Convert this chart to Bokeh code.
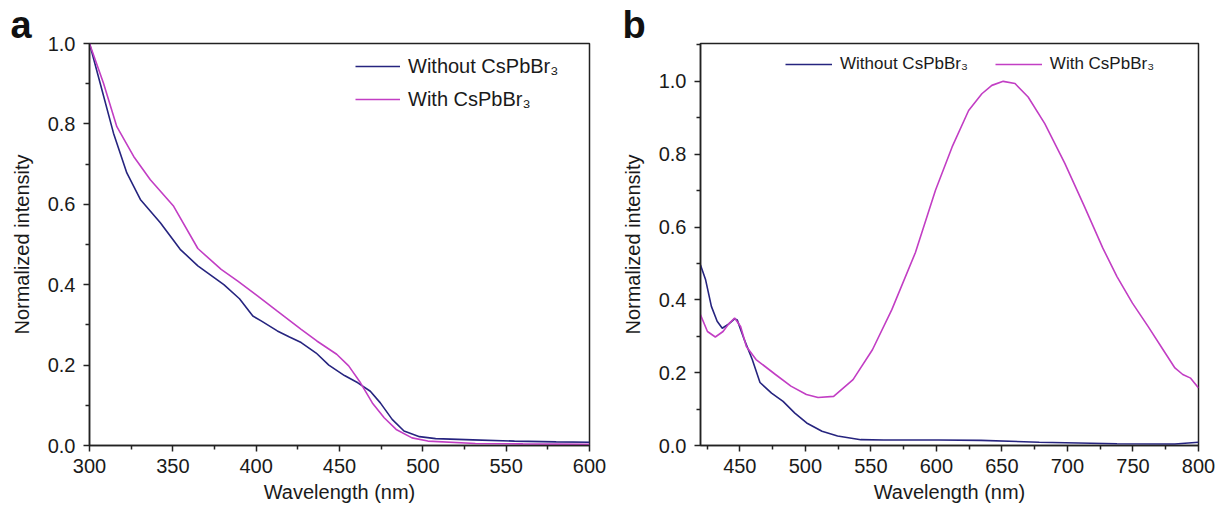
from bokeh.plotting import figure
from bokeh.models import Range1d, FixedTicker, Legend, LegendItem, PrintfTickFormatter, Title
from bokeh.layouts import row
from bokeh.embed import file_html
from bokeh.resources import INLINE

# ---- Panel a data (absorption) ----
a_wl_without = [300, 306.4, 314.4, 322.4, 330.5, 342.5, 354.4, 365, 380.6, 390, 398, 403, 412.7, 420, 427, 436,
                443.6, 453, 461, 468.5, 474.5, 481.6, 488.7, 498, 507.7, 530, 555, 580, 600]
a_int_without = [1.0, 0.901, 0.777, 0.678, 0.612, 0.554, 0.488, 0.447, 0.40, 0.365, 0.322, 0.31, 0.285, 0.27, 0.256, 0.23,
                 0.20, 0.174, 0.156, 0.135, 0.106, 0.065, 0.036, 0.022, 0.017, 0.014, 0.011, 0.009, 0.008]
a_wl_with = [300, 308.4, 316.4, 326.5, 336.5, 350.5, 365, 379, 389, 400.8, 412.7, 427, 436.4, 448.3, 455.5, 462.6,
             469.7, 476.8, 484, 493.5, 503, 531.5, 560, 600]
a_int_with = [1.0, 0.901, 0.793, 0.719, 0.661, 0.595, 0.49, 0.438, 0.409, 0.372, 0.334, 0.289, 0.26, 0.227, 0.198, 0.156,
              0.106, 0.069, 0.04, 0.019, 0.011, 0.005, 0.004, 0.003]

# ---- Panel b data (photoluminescence) ----
b_wl_without = [420, 423.9, 428.3, 432.7, 436.6, 441.6, 446, 448, 453.5, 459.5, 465.4, 474.2, 483, 492, 501, 512.7,
                524.6, 542.3, 560, 601.6, 634, 678.5, 737.8, 782, 800]
b_int_without = [0.496, 0.455, 0.382, 0.341, 0.322, 0.334, 0.348, 0.345, 0.29, 0.236, 0.173, 0.144, 0.121, 0.089, 0.062, 0.039,
                 0.026, 0.016, 0.015, 0.015, 0.014, 0.009, 0.005, 0.004, 0.009]
b_wl_with = [420, 425.3, 431.3, 437.2, 441.6, 446, 450.6, 455, 462.4, 477.2, 489, 500.8, 509.7, 521.6, 536.4, 551.2,
             566, 584, 599.3, 612, 624.6, 634.7, 642.3, 651, 660, 670, 682.7, 698, 713, 727, 737.8, 749.6,
             761.5, 773, 782, 788, 794, 800]
b_int_with = [0.359, 0.313, 0.298, 0.313, 0.334, 0.35, 0.327, 0.272, 0.236, 0.195, 0.163, 0.14, 0.132, 0.135, 0.181, 0.263,
              0.373, 0.53, 0.701, 0.82, 0.92, 0.966, 0.989, 1.0, 0.994, 0.957, 0.884, 0.775, 0.656, 0.542, 0.464, 0.391,
              0.327, 0.263, 0.213, 0.195, 0.185, 0.158]

label_without = "Without CsPbBr\u2083"
label_with = "With CsPbBr\u2083"

a_xticks = [300, 350, 400, 450, 500, 550, 600]
a_xminor = [325, 375, 425, 475, 525, 575]
a_yticks = [0.0, 0.2, 0.4, 0.6, 0.8, 1.0]
a_yminor = [0.1, 0.3, 0.5, 0.7, 0.9]
b_xticks = [450, 500, 550, 600, 650, 700, 750, 800]
b_xminor = [425, 475, 525, 575, 625, 675, 725, 775]
b_yticks = [0.0, 0.2, 0.4, 0.6, 0.8, 1.0]
b_yminor = [0.1, 0.3, 0.5, 0.7, 0.9, 1.1]

BLUE = "#26247f"
MAGENTA = "#c23ec4"
FONT = "Liberation Sans"
INK = "#1a1a1a"


def style(p, xt, xm, yt, ym):
    p.xgrid.visible = False
    p.ygrid.visible = False
    p.outline_line_color = "#222222"
    p.outline_line_width = 1.5
    p.background_fill_color = "white"
    p.border_fill_color = "white"
    p.xaxis.ticker = FixedTicker(ticks=xt, minor_ticks=xm)
    p.yaxis.ticker = FixedTicker(ticks=yt, minor_ticks=ym)
    p.yaxis.formatter = PrintfTickFormatter(format="%.1f")
    for ax in (p.xaxis[0], p.yaxis[0]):
        ax.axis_line_width = 1.5
        ax.axis_line_color = "#222222"
        ax.major_tick_line_width = 1.5
        ax.minor_tick_line_width = 1.5
        ax.major_tick_line_color = "#222222"
        ax.minor_tick_line_color = "#222222"
        ax.major_tick_out = 6
        ax.major_tick_in = 0
        ax.minor_tick_out = 4
        ax.minor_tick_in = 0
        ax.major_label_text_font = FONT
        ax.major_label_text_font_size = "20px"
        ax.major_label_text_color = INK
        ax.axis_label_text_font = FONT
        ax.axis_label_text_font_size = "20px"
        ax.axis_label_text_font_style = "normal"
        ax.axis_label_text_color = INK
    p.xaxis.major_label_standoff = 7
    p.yaxis.major_label_standoff = 8
    p.xaxis.axis_label_standoff = 5
    p.yaxis.axis_label_standoff = 12


def panel_title(letter, offset):
    return Title(text=letter, align="left", offset=offset, standoff=-4,
                 text_font=FONT, text_font_size="38px", text_font_style="bold",
                 text_color="#111111", vertical_align="bottom")


# Panel a
pa = figure(width=618, height=508, output_backend="svg", toolbar_location=None,
            x_range=Range1d(300, 600), y_range=Range1d(0, 1.0),
            x_axis_label="Wavelength (nm)", y_axis_label="Normalized intensity",
            title=panel_title("a", -79),
            min_border_left=89, min_border_right=29, min_border_top=43, min_border_bottom=63)
style(pa, a_xticks, a_xminor, a_yticks, a_yminor)
ra1 = pa.line(a_wl_without, a_int_without, line_color=BLUE, line_width=1.6)
ra2 = pa.line(a_wl_with, a_int_with, line_color=MAGENTA, line_width=1.6)
leg_a = Legend(items=[LegendItem(label=label_without, renderers=[ra1]),
                      LegendItem(label=label_with, renderers=[ra2])],
               location=(261, 329), orientation="vertical",
               border_line_alpha=0, background_fill_alpha=0,
               label_text_font=FONT, label_text_font_size="20px", label_text_color=INK,
               glyph_width=45, glyph_height=24, label_height=24, label_standoff=8,
               spacing=9, padding=5, margin=0)
pa.add_layout(leg_a)

# Panel b
pb = figure(width=603, height=508, output_backend="svg", toolbar_location=None,
            x_range=Range1d(420, 800), y_range=Range1d(0, 1.104),
            x_axis_label="Wavelength (nm)", y_axis_label="Normalized intensity",
            title=panel_title("b", -78),
            min_border_left=80, min_border_right=23, min_border_top=43, min_border_bottom=63)
style(pb, b_xticks, b_xminor, b_yticks, b_yminor)
rb1 = pb.line(b_wl_without, b_int_without, line_color=BLUE, line_width=1.6)
rb2 = pb.line(b_wl_with, b_int_with, line_color=MAGENTA, line_width=1.6)
leg_b = Legend(items=[LegendItem(label=label_without, renderers=[rb1]),
                      LegendItem(label=label_with, renderers=[rb2])],
               location=(80, 365), orientation="horizontal",
               border_line_alpha=0, background_fill_alpha=0,
               label_text_font=FONT, label_text_font_size="17px", label_text_color=INK,
               glyph_width=47, glyph_height=22, label_height=22, label_standoff=8,
               spacing=27, padding=5, margin=0)
pb.add_layout(leg_b)

layout = row(pa, pb, spacing=0)
open("out.html", "w").write(file_html(layout, INLINE))
